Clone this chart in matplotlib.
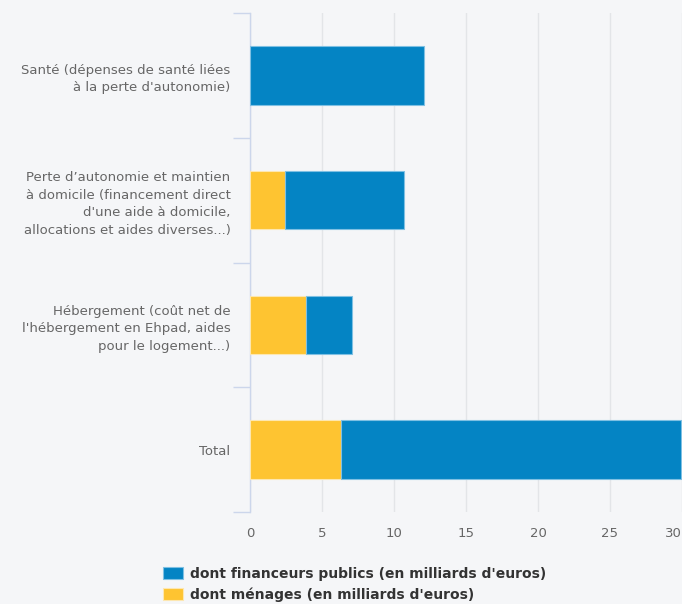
import matplotlib.pyplot as plt
import numpy as np

categories = [
    "Santé (dépenses de santé liées\nà la perte d'autonomie)",
    "Perte d’autonomie et maintien\nà domicile (financement direct\nd'une aide à domicile,\nallocations et aides diverses...)",
    "Hébergement (coût net de\nl'hébergement en Ehpad, aides\npour le logement...)",
    "Total",
]
menages = [0.0, 2.4, 3.9, 6.3]
publics = [12.1, 8.3, 3.2, 23.6]
xticks = [0, 5, 10, 15, 20, 25, 30]

bg = '#f5f6f8'
blue = '#0484c4'
yellow = '#fec431'

fig = plt.figure(figsize=(6.82, 6.04), dpi=100, facecolor=bg)
ax = fig.add_axes([250 / 682, 1 - 512 / 604, 432 / 682, 499 / 604])
ax.set_facecolor(bg)

y = np.arange(len(categories))
h = 0.47
b1 = ax.barh(y, menages, height=h, color=yellow, edgecolor='#fde7b0', linewidth=0.8, zorder=3)
b2 = ax.barh(y, publics, left=menages, height=h, color=blue, edgecolor='#7fc0e3', linewidth=0.8, zorder=3)

ax.set_xlim(0, 30)
ax.set_ylim(len(categories) - 0.5, -0.5)
ax.set_xticks(xticks)
ax.set_xticklabels([str(t) for t in xticks])
ax.tick_params(axis='x', length=0, pad=11, labelsize=9.5, labelcolor='#666666')
ax.set_yticks(y)
ax.set_yticklabels(categories, fontsize=9.5, color='#666666', linespacing=1.45)
ax.tick_params(axis='y', which='major', length=0, pad=14)
ax.set_yticks(np.arange(-0.5, len(categories)), minor=True)
ax.tick_params(axis='y', which='minor', length=12, color='#ccd6eb', width=1)
for lbl in ax.get_yticklabels():
    lbl.set_horizontalalignment('right')
ax.get_xticklabels()[-1].set_horizontalalignment('right')

ax.grid(axis='x', color='#e3e5e8', linewidth=1, zorder=0)
for s in ['top', 'right', 'bottom']:
    ax.spines[s].set_visible(False)
ax.spines['left'].set_color('#ccd6eb')
ax.spines['left'].set_linewidth(1)

leg = fig.legend([b2, b1],
                 ["dont financeurs publics (en milliards d'euros)",
                  "dont ménages (en milliards d'euros)"],
                 loc='upper left', bbox_to_anchor=(157 / 682, 1 - 561 / 604),
                 frameon=False, handlelength=1.45, handleheight=0.95,
                 handletextpad=0.5, labelspacing=0.5, borderaxespad=0,
                 prop={'weight': 'bold', 'size': 10})
for t in leg.get_texts():
    t.set_color('#333333')

fig.savefig('out.png', dpi=100, facecolor=bg)
